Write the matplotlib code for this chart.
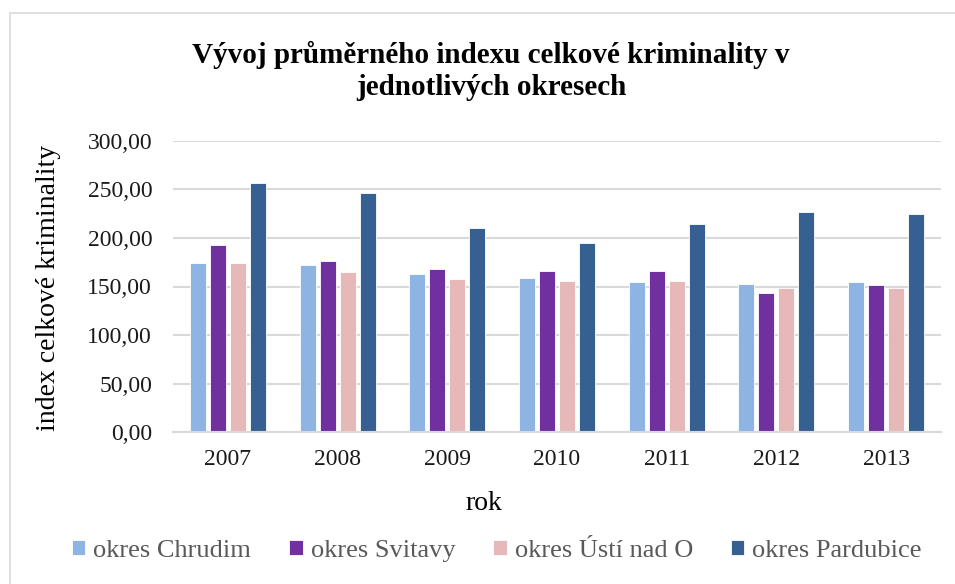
import matplotlib
matplotlib.use("Agg")
import matplotlib.pyplot as plt
import numpy as np
from matplotlib.patches import Rectangle

years = ["2007", "2008", "2009", "2010", "2011", "2012", "2013"]
series_names = ["okres Chrudim", "okres Svitavy", "okres Ústí nad O", "okres Pardubice"]
chrudim = [174.5, 171.7, 163.1, 158.7, 154.9, 152.5, 154.9]
svitavy = [193.0, 176.4, 168.3, 166.2, 166.2, 143.2, 152.0]
usti = [174.5, 165.2, 157.6, 155.6, 155.9, 148.3, 148.3]
pardubice = [256.5, 245.9, 210.7, 194.8, 214.5, 226.5, 225.2]
yticks = [0, 50, 100, 150, 200, 250, 300]

colors = ["#8EB4E3", "#7030A0", "#E6B9B8", "#366092"]
data = [chrudim, svitavy, usti, pardubice]

plt.rcParams["font.family"] = ["Liberation Serif", "DejaVu Serif"]

W, H = 955, 584
fig = plt.figure(figsize=(W / 100, H / 100), dpi=100)
ax = fig.add_axes([173 / W, 1 - 432 / H, (941 - 173) / W, (432 - 141) / H])

x = np.arange(len(years))
stride = 0.182
width = 0.146
for i, (vals, c, name) in enumerate(zip(data, colors, series_names)):
    ax.bar(x + (i - 1.5) * stride, vals, width=width, color=c, label=name,
           edgecolor="white", linewidth=0.6, zorder=3)

ax.set_xlim(-0.5, len(years) - 0.5)
ax.set_ylim(0, 300)
ax.set_yticks(yticks)
ax.set_yticklabels([f"{v:.2f}".replace(".", ",") for v in yticks])
ax.set_xticks(x)
ax.set_xticklabels(years)
ax.tick_params(axis="both", length=0, labelsize=17, colors="#1a1a1a")
ax.tick_params(axis="y", pad=15)
ax.tick_params(axis="x", pad=12)
ax.grid(axis="y", color="#d9d9d9", linewidth=1.5, zorder=0)
for s in ["top", "right", "left"]:
    ax.spines[s].set_visible(False)
ax.spines["bottom"].set_color("#d9d9d9")
ax.spines["bottom"].set_linewidth(1.5)
ax.spines["bottom"].set_zorder(4)

fig.text(49 / W, 1 - 288 / H, "index celkové kriminality", rotation=90,
         ha="center", va="center", fontsize=20, color="black")
fig.text(484 / W, 1 - 503 / H, "rok", ha="center", va="center", fontsize=20, color="black")
fig.text(491 / W, 1 - 71 / H, "Vývoj průměrného indexu celkové kriminality v\njednotlivých okresech",
         ha="center", va="center", fontsize=21, fontweight="bold", linespacing=1.2)

leg = fig.legend(loc="center", bbox_to_anchor=(497 / W, 1 - 551 / H), ncol=4, frameon=False,
                 fontsize=19, handlelength=0.5, handleheight=0.5, handletextpad=0.3,
                 columnspacing=1.45, labelcolor="#595959")

fig.patches.append(Rectangle((10 / W, -0.1), 1.2, 1.1 - 13 / H, transform=fig.transFigure,
                             fill=False, edgecolor="#d9d9d9", linewidth=1.2))

fig.savefig("out.png", dpi=100, facecolor="white")
